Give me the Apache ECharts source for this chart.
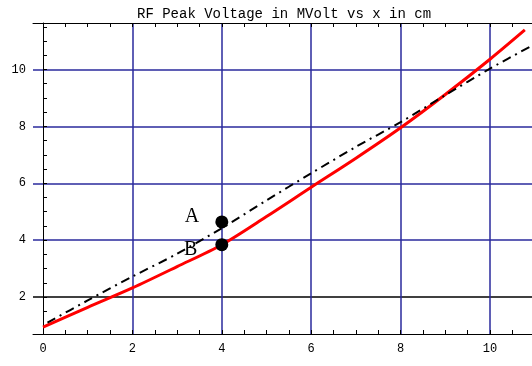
<!DOCTYPE html>
<html>
<head>
<meta charset="utf-8">
<script src="https://cdn.jsdelivr.net/npm/echarts@6/dist/echarts.min.js"></script>
<style>
  html, body { margin: 0; padding: 0; background: #fff; }
  #main { width: 532px; height: 366px; }
</style>
</head>
<body>
<div id="main"></div>
<script>
// data
var redX = [0, 1, 2, 3, 4, 5, 6, 7, 8, 9, 10, 10.78];
var redY = [0.94, 1.64, 2.32, 3.07, 3.84, 4.83, 5.86, 6.88, 7.95, 9.12, 10.36, 11.39];
var blackX = [0.1, 1, 2, 3, 4, 5, 6, 7, 8, 9, 10, 10.94];
var blackY = [1.1, 1.88, 2.72, 3.52, 4.42, 5.4, 6.35, 7.28, 8.15, 9.1, 10.03, 10.84];
var pointNames = ['A', 'B'];
var pointX = [4, 4];
var pointY = [4.64, 3.84];
var xLabels = [0, 2, 4, 6, 8, 10];
var yLabels = [2, 4, 6, 8, 10];
var xTicks = [0, 0.5, 1, 1.5, 2, 2.5, 3, 3.5, 4, 4.5, 5, 5.5, 6, 6.5, 7, 7.5, 8, 8.5, 9, 9.5, 10, 10.5];
var yTicks = [1, 1.5, 2, 2.5, 3, 3.5, 4, 4.5, 5, 5.5, 6, 6.5, 7, 7.5, 8, 8.5, 9, 9.5, 10, 10.5, 11, 11.5];
var xGrid = [2, 4, 6, 8, 10];
var yGrid = [2, 4, 6, 8, 10];

var xMin = -0.224, xMax = 10.94;
var yMin = 0.70, yMax = 11.635;

var chart = echarts.init(document.getElementById('main'), null, { renderer: 'canvas' });

function pairs(xs, ys) {
  return xs.map(function (x, i) { return [x, ys[i]]; });
}

var monoFont = 'Liberation Mono';
var gridBlue = '#2a2a9c';

var option = {
  backgroundColor: '#fff',
  animation: false,
  title: {
    text: 'RF Peak Voltage in MVolt vs x in cm',
    left: 132,
    top: 2,
    textStyle: { fontFamily: monoFont, fontSize: 14, fontWeight: 'normal', color: '#000' }
  },
  grid: { left: 33, right: 0, top: 23, bottom: 32 },
  xAxis: [
    {
      type: 'value', min: xMin, max: xMax, position: 'bottom',
      axisLine: { show: true, lineStyle: { color: '#000', width: 1 } },
      axisTick: { show: true, inside: true, length: 4, customValues: xTicks, lineStyle: { color: '#000' } },
      axisLabel: { customValues: xLabels, margin: 9, color: '#000', fontFamily: monoFont, fontSize: 12 },
      splitLine: { show: false }
    },
    {
      type: 'value', min: xMin, max: xMax, position: 'top',
      axisLine: { show: true, lineStyle: { color: '#000', width: 1 } },
      axisTick: { show: true, inside: true, length: 4, customValues: xTicks, lineStyle: { color: '#000' } },
      axisLabel: { show: false },
      splitLine: { show: false }
    },
    {
      type: 'value', min: xMin, max: xMax,
      axisLine: { show: false },
      axisTick: { show: false, customValues: xGrid },
      axisLabel: { show: false },
      splitLine: { show: true, lineStyle: { color: gridBlue, width: 1.5 } }
    }
  ],
  yAxis: [
    {
      type: 'value', min: yMin, max: yMax, position: 'left',
      axisLine: { show: true, lineStyle: { color: '#000', width: 1 } },
      axisTick: { show: true, inside: true, length: 4, customValues: yTicks, lineStyle: { color: '#000' } },
      axisLabel: { customValues: yLabels, margin: 7, color: '#000', fontFamily: monoFont, fontSize: 12 },
      splitLine: { show: false }
    },
    {
      type: 'value', min: yMin, max: yMax,
      axisLine: { show: false },
      axisTick: { show: false, customValues: yGrid },
      axisLabel: { show: false },
      splitLine: { show: true, lineStyle: { color: ['#000', gridBlue, gridBlue, gridBlue, gridBlue], width: 1.5 } }
    }
  ],
  series: [
    {
      name: 'red',
      type: 'line',
      xAxisIndex: 0, yAxisIndex: 0,
      data: pairs(redX, redY),
      smooth: 0.3,
      showSymbol: false,
      lineStyle: { color: '#ff0000', width: 3 },
      z: 3
    },
    {
      name: 'black',
      type: 'line',
      xAxisIndex: 0, yAxisIndex: 0,
      data: pairs(blackX, blackY),
      smooth: 0.3,
      showSymbol: false,
      lineStyle: { color: '#000', width: 2, type: [9, 5, 2, 5] },
      z: 4
    },
    {
      name: 'points',
      type: 'scatter',
      xAxisIndex: 0, yAxisIndex: 0,
      data: pointNames.map(function (n, i) {
        return {
          name: n,
          value: [pointX[i], pointY[i]],
          label: { offset: i === 0 ? [0, -5] : [-2, 5] }
        };
      }),
      symbolSize: 13,
      itemStyle: { color: '#000', opacity: 1 },
      label: {
        show: true,
        position: 'left',
        distance: 16,
        formatter: '{b}',
        color: '#000',
        opacity: 1,
        fontFamily: 'Liberation Serif',
        fontSize: 20
      },
      emphasis: { disabled: true },
      z: 5
    }
  ]
};

chart.setOption(option);
window.addEventListener('resize', chart.resize);
</script>
</body>
</html>
